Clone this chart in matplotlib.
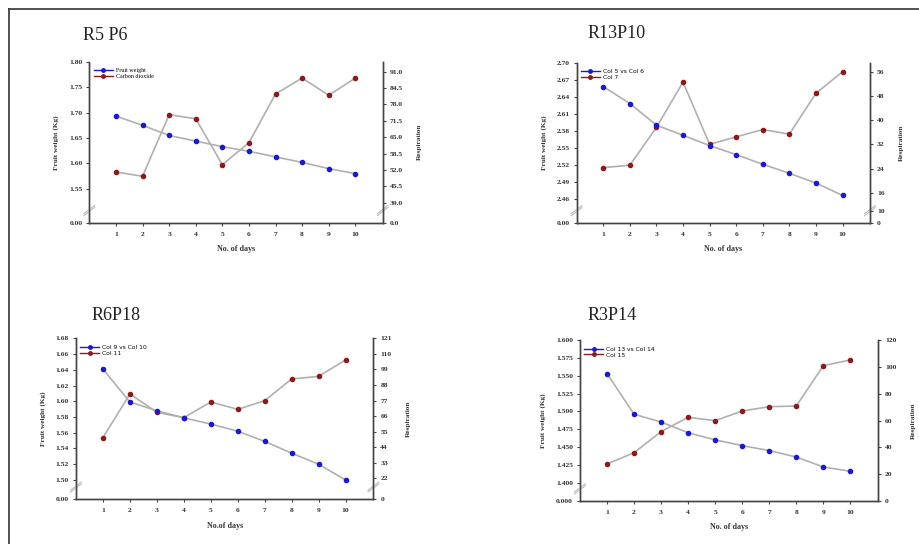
import matplotlib.pyplot as plt
from matplotlib.lines import Line2D

plt.rcParams['font.family'] = ['Liberation Serif', 'DejaVu Serif']

days = [1, 2, 3, 4, 5, 6, 7, 8, 9, 10]

# R5 P6
p1_weight = [1.693, 1.675, 1.655, 1.644, 1.633, 1.624, 1.613, 1.602, 1.590, 1.580]
p1_resp = [51.2, 49.5, 73.9, 72.3, 54.1, 62.8, 82.1, 88.4, 81.6, 88.4]
# R13P10
p2_weight = [2.658, 2.628, 2.590, 2.572, 2.554, 2.538, 2.521, 2.505, 2.488, 2.466]
p2_resp = [24.3, 25.1, 37.6, 52.6, 32.0, 34.5, 36.9, 35.4, 48.9, 56.0]
# R6P18
p3_weight = [1.641, 1.599, 1.588, 1.579, 1.571, 1.562, 1.549, 1.534, 1.520, 1.500]
p3_resp = [50.8, 81.7, 68.7, 64.9, 76.0, 70.8, 76.9, 92.3, 94.1, 105.7]
# R3P14
p4_weight = [1.553, 1.496, 1.485, 1.470, 1.460, 1.452, 1.445, 1.436, 1.422, 1.416]
p4_resp = [27.6, 36.0, 51.7, 62.4, 59.9, 67.1, 70.3, 70.8, 100.9, 105.1]

titles = ['R5 P6', 'R13P10', 'R6P18', 'R3P14']
xlabels = ['No. of days', 'No. of days', 'No.of days', 'No. of days']
legends = [('Fruit weight', 'Carbon dioxide'), ('Col 5 vs Col 6', 'Col 7'),
           ('Col 9 vs Col 10', 'Col 11'), ('Col 13 vs Col 14', 'Col 15')]

left_ticks = [[1.55, 1.60, 1.65, 1.70, 1.75, 1.80],
              [2.46, 2.49, 2.52, 2.55, 2.58, 2.61, 2.64, 2.67, 2.70],
              [1.50, 1.52, 1.54, 1.56, 1.58, 1.60, 1.62, 1.64, 1.66, 1.68],
              [1.400, 1.425, 1.450, 1.475, 1.500, 1.525, 1.550, 1.575, 1.600]]
right_ticks = [[39.0, 45.5, 52.0, 58.5, 65.0, 71.5, 78.0, 84.5, 91.0],
               [10, 16, 24, 32, 40, 48, 56],
               [22, 33, 44, 55, 66, 77, 88, 99, 110, 121],
               [0, 20, 40, 60, 80, 100, 120]]

fig = plt.figure(figsize=(9.2, 5.44), dpi=100)

# outer frame of the scanned figure
fig.add_artist(Line2D([9 / 920, 9 / 920], [0, 1 - 9 / 544], color='#333333', lw=1.2))
fig.add_artist(Line2D([9 / 920, 1], [1 - 9 / 544, 1 - 9 / 544], color='#333333', lw=1.2))

boxes = [[0.0971, 0.5906, 0.3189, 0.2960],
         [0.6268, 0.5906, 0.3188, 0.2941],
         [0.0826, 0.0821, 0.3232, 0.2960],
         [0.6304, 0.0790, 0.3242, 0.2960]]
# (bottom stands for 0, top) limits of the broken axes
left_lims = [(1.4836, 1.80), (2.418, 2.70), (1.4754, 1.68), (1.3743, 1.600)]
right_lims = [(31.1, 94.9), (6.08, 59.0), (7.2, 121), (0, 120)]
left_fmt = ['%.2f', '%.2f', '%.2f', '%.3f']
right_fmt = ['%.1f', '%d', '%d', '%d']
right_broken = [True, True, True, False]
title_pos = [(83, 35), (588, 33), (92, 315), (588, 315)]

weights = [p1_weight, p2_weight, p3_weight, p4_weight]
resps = [p1_resp, p2_resp, p3_resp, p4_resp]

blue = '#1a1acc'
red = '#8b1a1a'
gray = '#b0b0b0'
spine_c = '#444444'
tick_font = dict(family='Liberation Serif', weight='bold', size=5.4)


def break_mark(ax, side):
    x = 0 if side == 'left' else 1
    for dy in (0.0, 0.012):
        ax.plot([x - 0.018, x + 0.018], [0.045 + dy, 0.095 + dy], transform=ax.transAxes,
                color='#bbbbbb', lw=0.8, clip_on=False)


for i in range(4):
    ax = fig.add_axes(boxes[i])
    ax2 = ax.twinx()
    ax.set_zorder(ax2.get_zorder() + 1)
    ax.patch.set_visible(False)

    ax2.plot(days, resps[i], '-o', color=gray, lw=1.2, markersize=3.0,
             markerfacecolor=red, markeredgecolor=red)
    ax.plot(days, weights[i], '-o', color=gray, lw=1.2, markersize=3.0,
            markerfacecolor=blue, markeredgecolor=blue)

    ax.set_xlim(0, 11.03)
    ax.set_xticks(days)
    ax.set_xticklabels([str(d) for d in days], fontdict=tick_font)

    lo, hi = left_lims[i]
    ax.set_ylim(lo, hi)
    ax.set_yticks([lo] + left_ticks[i])
    zero_l = left_fmt[i] % 0
    ax.set_yticklabels([zero_l] + [left_fmt[i] % t for t in left_ticks[i]], fontdict=tick_font)

    lo2, hi2 = right_lims[i]
    ax2.set_ylim(lo2, hi2)
    if right_broken[i]:
        ax2.set_yticks([lo2] + right_ticks[i])
        ax2.set_yticklabels([right_fmt[i] % 0] + [right_fmt[i] % t for t in right_ticks[i]],
                            fontdict=tick_font)
        break_mark(ax2, 'right')
    else:
        ax2.set_yticks(right_ticks[i])
        ax2.set_yticklabels([right_fmt[i] % t for t in right_ticks[i]], fontdict=tick_font)
    break_mark(ax, 'left')

    for a in (ax, ax2):
        a.spines['top'].set_visible(False)
        for s in ('left', 'right', 'bottom'):
            a.spines[s].set_color(spine_c)
            a.spines[s].set_linewidth(1.0)
        a.tick_params(length=2.5, width=0.8, color=spine_c, pad=2.5, labelcolor='#333333')
    ax.tick_params(axis='x', pad=4)

    ax.set_xlabel(xlabels[i], fontsize=5.8, fontweight='bold', color='#333333', labelpad=6)
    ax.set_ylabel('Fruit weight (Kg)', fontsize=5.2, fontweight='bold', color='#333333', labelpad=7)
    ax2.set_ylabel('Respiration', fontsize=5.2, fontweight='bold', color='#333333',
                   rotation=90, labelpad=10)

    handles = [Line2D([], [], color=blue, marker='o', markersize=2.5, lw=1.0),
               Line2D([], [], color=red, marker='o', markersize=2.5, lw=1.0)]
    leg_font = 'Liberation Serif' if i == 0 else 'DejaVu Sans'
    ax.legend(handles, legends[i], loc='upper left', frameon=False,
              prop={'family': leg_font, 'size': 4.3}, handlelength=3.2,
              handletextpad=0.5, labelspacing=0.1, borderaxespad=0.3,
              bbox_to_anchor=(0.0, 0.985))

    tx, ty = title_pos[i]
    fig.text(tx / 920, 1 - ty / 544, titles[i], fontsize=13, ha='left', va='center',
             family='Liberation Serif', color='#222222')

fig.savefig('out.png', dpi=100)
